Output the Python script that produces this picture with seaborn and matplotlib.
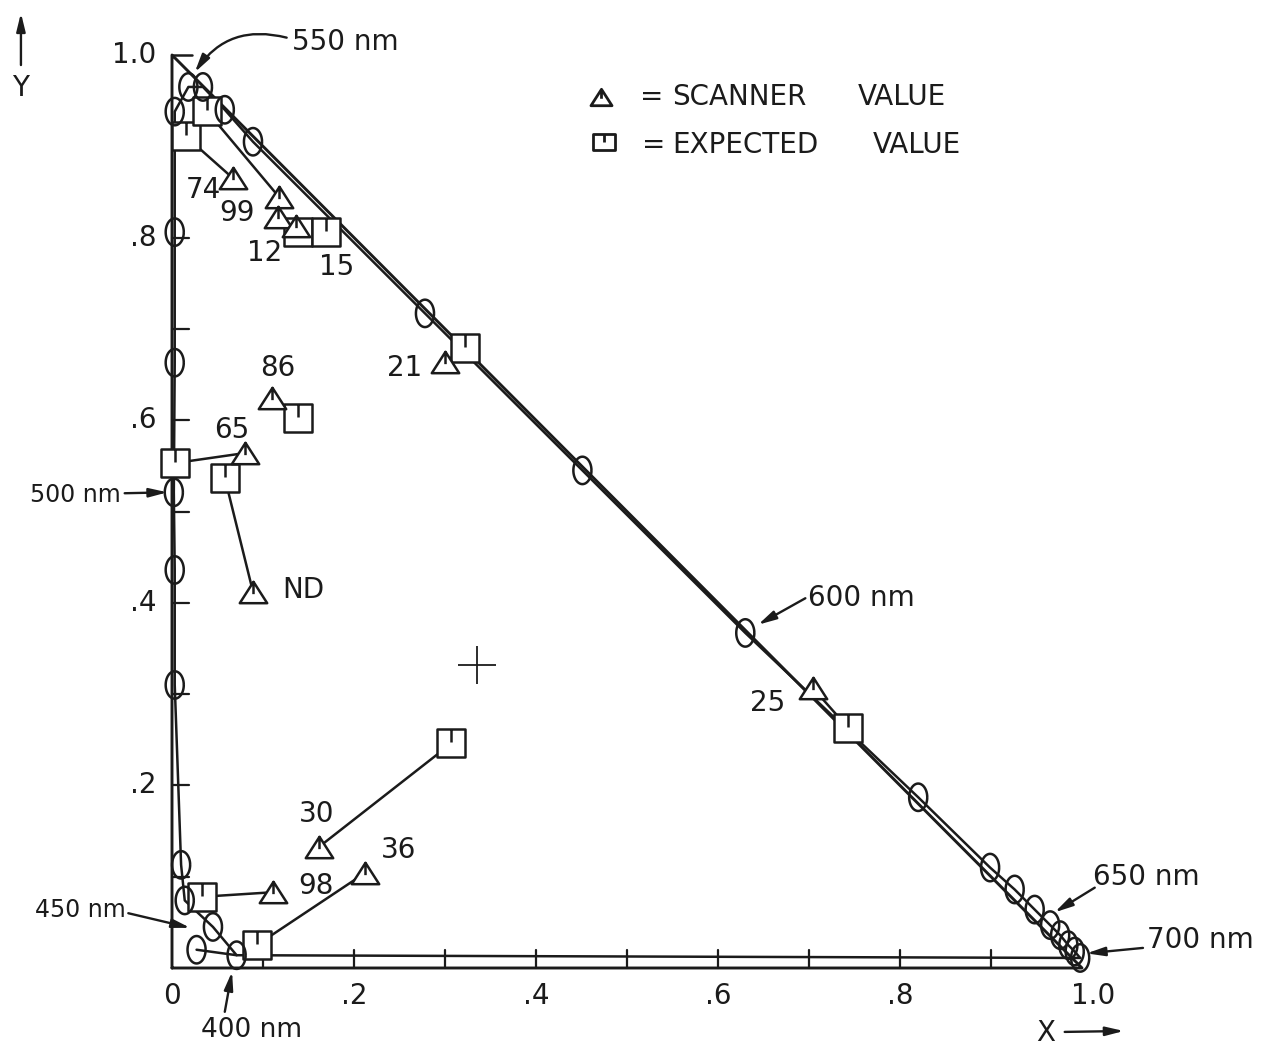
import numpy as np
import pandas as pd
import matplotlib
matplotlib.use("Agg")
import matplotlib.pyplot as plt
from matplotlib.path import Path
from matplotlib.markers import MarkerStyle
import seaborn as sns

# ---------------------------------------------------------------------------
# Spectrum locus (oval marks), ordered from the violet end round to 700 nm
locus_x = [0.027, 0.071, 0.045, 0.014, 0.010, 0.003, 0.003, 0.002, 0.003,
           0.003, 0.003, 0.018, 0.034, 0.058, 0.089, 0.278, 0.451, 0.630,
           0.820, 0.899, 0.926, 0.948, 0.965, 0.976, 0.985, 0.992, 0.998]
locus_y = [0.020, 0.014, 0.045, 0.074, 0.113, 0.310, 0.436, 0.521, 0.663,
           0.806, 0.938, 0.965, 0.965, 0.940, 0.905, 0.717, 0.545, 0.367,
           0.187, 0.110, 0.086, 0.064, 0.047, 0.036, 0.025, 0.018, 0.011]

# Test samples: scanner reading vs expected chromaticity
sample_ids = ["74", "99", "12", "15", "21", "86", "65", "ND", "25", "30", "36", "98"]
scanner_x = [0.067, 0.118, 0.116, 0.136, 0.300, 0.110, 0.080, 0.089, 0.704, 0.162, 0.212, 0.111]
scanner_y = [0.865, 0.844, 0.823, 0.813, 0.664, 0.624, 0.564, 0.412, 0.307, 0.133, 0.104, 0.083]
expected_x = [0.015, 0.038, 0.138, 0.169, 0.322, 0.138, 0.003, 0.058, 0.743, 0.307, 0.093, 0.033]
expected_y = [0.911, 0.939, 0.806, 0.806, 0.679, 0.602, 0.553, 0.537, 0.263, 0.246, 0.025, 0.078]

# Equal-energy white
white_x = [0.335]
white_y = [0.332]

# Axis ticks
tick_values = [0.1, 0.2, 0.3, 0.4, 0.5, 0.6, 0.7, 0.8, 0.9]
y_tick_labels = {1.0: "1.0", 0.8: ".8", 0.6: ".6", 0.4: ".4", 0.2: ".2"}
x_tick_labels = {0.0: "0", 0.2: ".2", 0.4: ".4", 0.6: ".6", 0.8: ".8", 1.0: "1.0"}

# ---------------------------------------------------------------------------
INK = "#1b1b1b"
sns.set_theme(style="white")
plt.rcParams["font.family"] = ["DejaVu Sans"]

fig = plt.figure(figsize=(12.74, 10.56), dpi=100)
ax = fig.add_axes([0, 0, 1, 1])
ax.set_xlim(-172 / 910, (1274 - 172) / 910)
ax.set_ylim((968 - 1056) / 913, 968 / 913)
ax.axis("off")

M, L, C = Path.MOVETO, Path.LINETO, Path.CLOSEPOLY

tri_marker = MarkerStyle(Path(
    [(-0.5, -0.39), (0.5, -0.39), (0.0, 0.39), (-0.5, -0.39), (0.0, 0.39), (0.0, -0.06)],
    [M, L, L, C, M, L]))
sq_marker = MarkerStyle(Path(
    [(-0.5, -0.5), (0.5, -0.5), (0.5, 0.5), (-0.5, 0.5), (-0.5, -0.5), (0.0, 0.5), (0.0, 0.02)],
    [M, L, L, L, C, M, L]))
legend_sq_marker = MarkerStyle(Path(
    [(-0.5, -0.34), (0.5, -0.34), (0.5, 0.34), (-0.5, 0.34), (-0.5, -0.34), (0.0, 0.34), (0.0, -0.02)],
    [M, L, L, L, C, M, L]))
t = np.linspace(0, 2 * np.pi, 48)
oval_marker = MarkerStyle(Path(np.column_stack([0.33 * np.cos(t), 0.5 * np.sin(t)])))

LW = 1.8

# Triangle frame with tick marks
ax.plot([0, 0, 1, 0], [0, 1, 0, 0], color=INK, lw=2.1, solid_capstyle="round", zorder=2)
ax.plot([0, 0.022], [1, 1], color=INK, lw=1.8, zorder=2)
for v in tick_values:
    ax.plot([0, 0.019], [v, v], color=INK, lw=1.6, zorder=2)
    ax.plot([v, v], [0, 0.02], color=INK, lw=1.6, zorder=2)

# Spectrum locus and purple line
sns.lineplot(x=locus_x, y=locus_y, sort=False, estimator=None, color=INK, lw=LW, ax=ax, zorder=2)
ax.plot([locus_x[1], locus_x[-1]], [locus_y[1], locus_y[-1]], color=INK, lw=LW, zorder=2)

# Lines joining each expected value to its scanner value
pairs = pd.DataFrame({
    "sample": sample_ids * 2,
    "x": expected_x + scanner_x,
    "y": expected_y + scanner_y,
})
sns.lineplot(data=pairs, x="x", y="y", units="sample", estimator=None, sort=False,
             color=INK, lw=LW, ax=ax, zorder=2, legend=False)

sns.scatterplot(x=expected_x, y=expected_y, marker=sq_marker, s=390, color="white",
                edgecolor=INK, linewidth=LW, ax=ax, zorder=3, legend=False)
sns.scatterplot(x=scanner_x, y=scanner_y, marker=tri_marker, s=390, color="white",
                edgecolor=INK, linewidth=LW, ax=ax, zorder=4, legend=False)
sns.scatterplot(x=locus_x, y=locus_y, marker=oval_marker, s=390, facecolor="none",
                color=INK, edgecolor=INK, linewidth=LW, ax=ax, zorder=5, legend=False)

# White point
sns.scatterplot(x=white_x, y=white_y, marker="+", s=740, color=INK, linewidth=1.3, ax=ax, zorder=3)

FS = 20
txt = dict(color=INK, fontsize=FS)

# Sample labels, offset in pixels from the scanner mark
label_offsets = {"74": (-30, -12), "99": (-42, -16), "12": (-13, -36), "15": (41, -41),
                 "21": (-40, -6), "86": (6, 30), "65": (-13, 23), "ND": (50, 2),
                 "25": (-45, -15), "30": (-3, 33), "36": (34, 23), "98": (43, 6)}
for sid, sx, sy in zip(sample_ids, scanner_x, scanner_y):
    dx, dy = label_offsets[sid]
    ax.annotate(sid, (sx, sy), xytext=(dx * 0.72, dy * 0.72), textcoords="offset points",
                ha="center", va="center", **txt)

# Axis tick labels
for v, s in y_tick_labels.items():
    ax.text(-0.017, v, s, ha="right", va="center", **txt)
for v, s in x_tick_labels.items():
    ax.text(v + (0.012 if v == 1.0 else 0.0), -0.031, s, ha="center", va="center", **txt)

# Wavelength call-outs
arrow = dict(arrowstyle="-|>,head_length=0.9,head_width=0.22", color=INK, lw=1.7,
             shrinkA=0, shrinkB=0)
callouts = [
    ("550 nm", (0.132, 1.014), 20, (0.126, 1.019), (0.025, 0.981), "arc3,rad=0.35"),
    ("500 nm", (-0.156, 0.518), 17, (-0.052, 0.520), (-0.005, 0.521), "arc3,rad=0"),
    ("450 nm", (-0.151, 0.064), 17, (-0.048, 0.060), (0.020, 0.044), "arc3,rad=0"),
    ("600 nm", (0.699, 0.405), 20, (0.696, 0.405), (0.644, 0.376), "arc3,rad=0"),
    ("650 nm", (1.012, 0.100), 20, (1.014, 0.088), (0.970, 0.061), "arc3,rad=0"),
    ("700 nm", (1.071, 0.031), 20, (1.067, 0.022), (1.005, 0.016), "arc3,rad=0"),
]
for s, tpos, fs, tail, tip, conn in callouts:
    ax.text(tpos[0], tpos[1], s, ha="left", va="center", color=INK, fontsize=fs)
    ax.annotate("", xy=tip, xytext=tail, arrowprops=dict(arrow, connectionstyle=conn))
ax.text(0.087, -0.068, "400 nm", ha="center", va="center", color=INK, fontsize=19)
ax.annotate("", xy=(0.066, -0.004), xytext=(0.058, -0.048), arrowprops=arrow)

# Axis names
ax.text(-0.166, 0.964, "Y", ha="center", va="center", **txt)
ax.annotate("", xy=(-0.166, 1.046), xytext=(-0.166, 0.989), arrowprops=arrow)
ax.text(0.960, -0.071, "X", ha="center", va="center", **txt)
ax.annotate("", xy=(1.046, -0.069), xytext=(0.981, -0.070), arrowprops=arrow)

# Key
sns.scatterplot(x=[0.471], y=[0.954], marker=tri_marker, s=230, color="white",
                edgecolor=INK, linewidth=2.0, ax=ax, zorder=4, legend=False)
sns.scatterplot(x=[0.475], y=[0.905], marker=legend_sq_marker, s=260, color="white",
                edgecolor=INK, linewidth=2.0, ax=ax, zorder=4, legend=False)
key = dict(color=INK, fontsize=20, va="center", ha="left")
ax.text(0.514, 0.954, "=", **key)
ax.text(0.550, 0.954, "SCANNER", **key)
ax.text(0.754, 0.954, "VALUE", **key)
ax.text(0.517, 0.901, "=", **key)
ax.text(0.550, 0.901, "EXPECTED", **key)
ax.text(0.770, 0.901, "VALUE", **key)

fig.savefig("out.png", dpi=100, facecolor="white")
